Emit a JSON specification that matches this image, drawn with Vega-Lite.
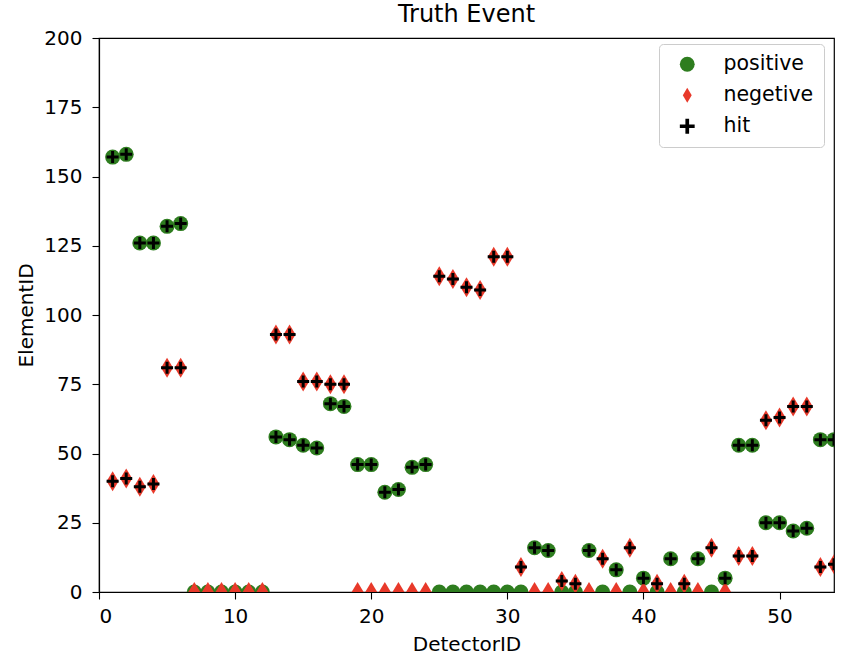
{
  "$schema": "https://vega.github.io/schema/vega-lite/v6.json",
  "width": 735,
  "height": 554,
  "autosize": {"type": "pad"},
  "padding": {"left": 16, "top": 3, "right": 8, "bottom": 3},
  "background": "white",
  "title": {"text": "Truth Event", "fontSize": 24, "font": "DejaVu Sans", "fontWeight": "normal", "color": "black", "frame": "group", "anchor": "middle", "baseline": "alphabetic", "offset": -18},
  "config": {
    "view": {"stroke": "black", "strokeWidth": 1.2},
    "axis": {"grid": false, "domainColor": "black", "domainWidth": 1.2, "tickColor": "black", "tickWidth": 1.1, "tickSize": 7, "labelFont": "DejaVu Sans", "labelFontSize": 20, "labelColor": "black", "titleFont": "DejaVu Sans", "titleFontSize": 20, "titleFontWeight": "normal", "titleColor": "black", "labelPadding": 10},
    "legend": {"labelFont": "DejaVu Sans", "labelFontSize": 20.5, "labelColor": "black"}
  },
  "datasets": {
    "pts": [
      {"det":1,"elem":157,"series":"positive"},{"det":2,"elem":158,"series":"positive"},{"det":3,"elem":126,"series":"positive"},{"det":4,"elem":126,"series":"positive"},{"det":5,"elem":132,"series":"positive"},{"det":6,"elem":133,"series":"positive"},
      {"det":7,"elem":0,"series":"positive"},{"det":8,"elem":0,"series":"positive"},{"det":9,"elem":0,"series":"positive"},{"det":10,"elem":0,"series":"positive"},{"det":11,"elem":0,"series":"positive"},{"det":12,"elem":0,"series":"positive"},
      {"det":13,"elem":56,"series":"positive"},{"det":14,"elem":55,"series":"positive"},{"det":15,"elem":53,"series":"positive"},{"det":16,"elem":52,"series":"positive"},{"det":17,"elem":68,"series":"positive"},{"det":18,"elem":67,"series":"positive"},
      {"det":19,"elem":46,"series":"positive"},{"det":20,"elem":46,"series":"positive"},{"det":21,"elem":36,"series":"positive"},{"det":22,"elem":37,"series":"positive"},{"det":23,"elem":45,"series":"positive"},{"det":24,"elem":46,"series":"positive"},
      {"det":25,"elem":0,"series":"positive"},{"det":26,"elem":0,"series":"positive"},{"det":27,"elem":0,"series":"positive"},{"det":28,"elem":0,"series":"positive"},{"det":29,"elem":0,"series":"positive"},{"det":30,"elem":0,"series":"positive"},{"det":31,"elem":0,"series":"positive"},
      {"det":32,"elem":16,"series":"positive"},{"det":33,"elem":15,"series":"positive"},{"det":34,"elem":0,"series":"positive"},{"det":35,"elem":0,"series":"positive"},{"det":36,"elem":15,"series":"positive"},{"det":37,"elem":0,"series":"positive"},
      {"det":38,"elem":8,"series":"positive"},{"det":39,"elem":0,"series":"positive"},{"det":40,"elem":5,"series":"positive"},{"det":41,"elem":0,"series":"positive"},{"det":42,"elem":12,"series":"positive"},{"det":43,"elem":0,"series":"positive"},
      {"det":44,"elem":12,"series":"positive"},{"det":45,"elem":0,"series":"positive"},{"det":46,"elem":5,"series":"positive"},{"det":47,"elem":53,"series":"positive"},{"det":48,"elem":53,"series":"positive"},{"det":49,"elem":25,"series":"positive"},
      {"det":50,"elem":25,"series":"positive"},{"det":51,"elem":22,"series":"positive"},{"det":52,"elem":23,"series":"positive"},{"det":53,"elem":55,"series":"positive"},{"det":54,"elem":55,"series":"positive"},

      {"det":1,"elem":40,"series":"negetive"},{"det":2,"elem":41,"series":"negetive"},{"det":3,"elem":38,"series":"negetive"},{"det":4,"elem":39,"series":"negetive"},{"det":5,"elem":81,"series":"negetive"},{"det":6,"elem":81,"series":"negetive"},
      {"det":7,"elem":0,"series":"negetive"},{"det":8,"elem":0,"series":"negetive"},{"det":9,"elem":0,"series":"negetive"},{"det":10,"elem":0,"series":"negetive"},{"det":11,"elem":0,"series":"negetive"},{"det":12,"elem":0,"series":"negetive"},
      {"det":13,"elem":93,"series":"negetive"},{"det":14,"elem":93,"series":"negetive"},{"det":15,"elem":76,"series":"negetive"},{"det":16,"elem":76,"series":"negetive"},{"det":17,"elem":75,"series":"negetive"},{"det":18,"elem":75,"series":"negetive"},
      {"det":19,"elem":0,"series":"negetive"},{"det":20,"elem":0,"series":"negetive"},{"det":21,"elem":0,"series":"negetive"},{"det":22,"elem":0,"series":"negetive"},{"det":23,"elem":0,"series":"negetive"},{"det":24,"elem":0,"series":"negetive"},
      {"det":25,"elem":114,"series":"negetive"},{"det":26,"elem":113,"series":"negetive"},{"det":27,"elem":110,"series":"negetive"},{"det":28,"elem":109,"series":"negetive"},{"det":29,"elem":121,"series":"negetive"},{"det":30,"elem":121,"series":"negetive"},{"det":31,"elem":9,"series":"negetive"},
      {"det":32,"elem":0,"series":"negetive"},{"det":33,"elem":0,"series":"negetive"},{"det":34,"elem":4,"series":"negetive"},{"det":35,"elem":3,"series":"negetive"},{"det":36,"elem":0,"series":"negetive"},{"det":37,"elem":12,"series":"negetive"},
      {"det":38,"elem":0,"series":"negetive"},{"det":39,"elem":16,"series":"negetive"},{"det":40,"elem":0,"series":"negetive"},{"det":41,"elem":3,"series":"negetive"},{"det":42,"elem":0,"series":"negetive"},{"det":43,"elem":3,"series":"negetive"},
      {"det":44,"elem":0,"series":"negetive"},{"det":45,"elem":16,"series":"negetive"},{"det":46,"elem":0,"series":"negetive"},{"det":47,"elem":13,"series":"negetive"},{"det":48,"elem":13,"series":"negetive"},{"det":49,"elem":62,"series":"negetive"},
      {"det":50,"elem":63,"series":"negetive"},{"det":51,"elem":67,"series":"negetive"},{"det":52,"elem":67,"series":"negetive"},{"det":53,"elem":9,"series":"negetive"},{"det":54,"elem":10,"series":"negetive"},

      {"det":1,"elem":157,"series":"hit"},{"det":2,"elem":158,"series":"hit"},{"det":3,"elem":126,"series":"hit"},{"det":4,"elem":126,"series":"hit"},{"det":5,"elem":132,"series":"hit"},{"det":6,"elem":133,"series":"hit"},
      {"det":13,"elem":56,"series":"hit"},{"det":14,"elem":55,"series":"hit"},{"det":15,"elem":53,"series":"hit"},{"det":16,"elem":52,"series":"hit"},{"det":17,"elem":68,"series":"hit"},{"det":18,"elem":67,"series":"hit"},
      {"det":19,"elem":46,"series":"hit"},{"det":20,"elem":46,"series":"hit"},{"det":21,"elem":36,"series":"hit"},{"det":22,"elem":37,"series":"hit"},{"det":23,"elem":45,"series":"hit"},{"det":24,"elem":46,"series":"hit"},
      {"det":32,"elem":16,"series":"hit"},{"det":33,"elem":15,"series":"hit"},{"det":36,"elem":15,"series":"hit"},{"det":38,"elem":8,"series":"hit"},{"det":40,"elem":5,"series":"hit"},{"det":42,"elem":12,"series":"hit"},
      {"det":44,"elem":12,"series":"hit"},{"det":46,"elem":5,"series":"hit"},{"det":47,"elem":53,"series":"hit"},{"det":48,"elem":53,"series":"hit"},{"det":49,"elem":25,"series":"hit"},{"det":50,"elem":25,"series":"hit"},
      {"det":51,"elem":22,"series":"hit"},{"det":52,"elem":23,"series":"hit"},{"det":53,"elem":55,"series":"hit"},{"det":54,"elem":55,"series":"hit"},
      {"det":1,"elem":40,"series":"hit"},{"det":2,"elem":41,"series":"hit"},{"det":3,"elem":38,"series":"hit"},{"det":4,"elem":39,"series":"hit"},{"det":5,"elem":81,"series":"hit"},{"det":6,"elem":81,"series":"hit"},
      {"det":13,"elem":93,"series":"hit"},{"det":14,"elem":93,"series":"hit"},{"det":15,"elem":76,"series":"hit"},{"det":16,"elem":76,"series":"hit"},{"det":17,"elem":75,"series":"hit"},{"det":18,"elem":75,"series":"hit"},
      {"det":25,"elem":114,"series":"hit"},{"det":26,"elem":113,"series":"hit"},{"det":27,"elem":110,"series":"hit"},{"det":28,"elem":109,"series":"hit"},{"det":29,"elem":121,"series":"hit"},{"det":30,"elem":121,"series":"hit"},
      {"det":31,"elem":9,"series":"hit"},{"det":34,"elem":4,"series":"hit"},{"det":35,"elem":3,"series":"hit"},{"det":37,"elem":12,"series":"hit"},{"det":39,"elem":16,"series":"hit"},{"det":41,"elem":3,"series":"hit"},
      {"det":43,"elem":3,"series":"hit"},{"det":45,"elem":16,"series":"hit"},{"det":47,"elem":13,"series":"hit"},{"det":48,"elem":13,"series":"hit"},{"det":49,"elem":62,"series":"hit"},{"det":50,"elem":63,"series":"hit"},
      {"det":51,"elem":67,"series":"hit"},{"det":52,"elem":67,"series":"hit"},{"det":53,"elem":9,"series":"hit"},{"det":54,"elem":10,"series":"hit"}
    ]
  },
  "data": {"name": "pts"},
  "encoding": {
    "x": {"field": "det", "type": "quantitative", "title": "DetectorID",
          "scale": {"domain": [0, 54], "nice": false, "zero": false},
          "axis": {"values": [0, 10, 20, 30, 40, 50], "titlePadding": 8, "labelPadding": 7}},
    "y": {"field": "elem", "type": "quantitative", "title": "ElementID",
          "scale": {"domain": [0, 200], "nice": false},
          "axis": {"values": [0, 25, 50, 75, 100, 125, 150, 175, 200], "titlePadding": 7}},
    "color": {"field": "series", "type": "nominal",
              "scale": {"domain": ["positive", "negetive", "hit"], "range": ["#2e7d1f", "#e8392a", "#000000"]},
              "legend": {"title": null, "orient": "none", "legendX": 560, "legendY": 6, "padding": 10, "symbolOffset": 8, "labelOffset": 26, "rowPadding": 10, "strokeColor": "#cccccc", "fillColor": "white", "cornerRadius": 4, "symbolStrokeWidth": 0, "symbolSize": 220}},
    "shape": {"field": "series", "type": "nominal",
              "scale": {"domain": ["positive", "negetive", "hit"], "range": ["circle", "M0,-1L0.6,0L0,1L-0.6,0Z", "M-1,-0.25L-0.25,-0.25L-0.25,-1L0.25,-1L0.25,-0.25L1,-0.25L1,0.25L0.25,0.25L0.25,1L-0.25,1L-0.25,0.25L-1,0.25Z"]}}
  },
  "layer": [
    {"transform": [{"filter": "datum.series == 'positive'"}],
     "mark": {"type": "point", "filled": true, "opacity": 1, "clip": true, "strokeWidth": 0, "size": 225}},
    {"transform": [{"filter": "datum.series == 'negetive'"}],
     "mark": {"type": "point", "filled": true, "opacity": 1, "clip": true, "strokeWidth": 0, "size": 400}},
    {"transform": [{"filter": "datum.series == 'hit'"}],
     "mark": {"type": "point", "filled": true, "opacity": 1, "clip": true, "strokeWidth": 0, "size": 144}}
  ]
}
